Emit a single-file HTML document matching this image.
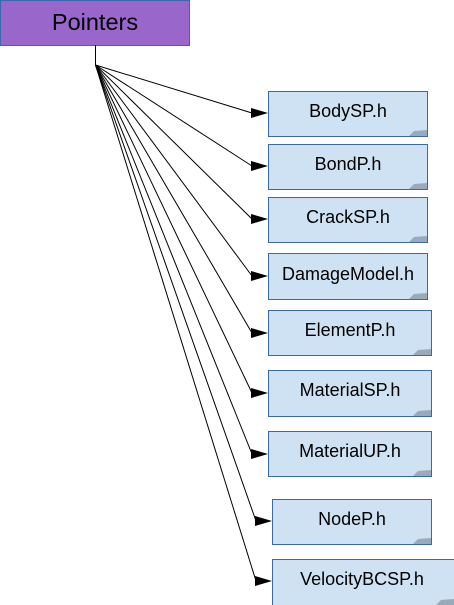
<!DOCTYPE html>
<html><head><style>body{margin:0;background:#fff}svg{display:block}</style></head><body>
<svg width="454" height="605" viewBox="0 0 454 605" xmlns="http://www.w3.org/2000/svg" font-family="Liberation Sans, sans-serif">
<rect x="0.5" y="0.5" width="189" height="45" fill="#9966cc" stroke="#3a68b0"/>
<text x="95" y="30" font-size="23.5" text-anchor="middle" fill="#000">Pointers</text>
<line x1="95.5" y1="45" x2="95.5" y2="65" stroke="#000"/>
<g stroke="#000" stroke-width="1" fill="none">
<line x1="95.5" y1="65" x2="252" y2="113"/>
<line x1="95.5" y1="65" x2="252" y2="166"/>
<line x1="95.5" y1="65" x2="252" y2="219"/>
<line x1="95.5" y1="65" x2="252" y2="276"/>
<line x1="95.5" y1="65" x2="252" y2="333"/>
<line x1="95.5" y1="65" x2="252" y2="393"/>
<line x1="95.5" y1="65" x2="252" y2="454"/>
<line x1="95.5" y1="65" x2="256" y2="521"/>
<line x1="95.5" y1="65" x2="256" y2="581"/>
</g>
<g fill="#000">
<path d="M251,108 L268,113 L251,118Z"/>
<path d="M251,161 L268,166 L251,171Z"/>
<path d="M251,214 L268,219 L251,224Z"/>
<path d="M251,271 L268,276 L251,281Z"/>
<path d="M251,328 L268,333 L251,338Z"/>
<path d="M251,388 L268,393 L251,398Z"/>
<path d="M251,449 L268,454 L251,459Z"/>
<path d="M255,516 L272,521 L255,526Z"/>
<path d="M255,576 L272,581 L255,586Z"/>
</g>
<g fill="#cfe2f3" stroke="#3a68b0" font-size="18">
<g><rect x="268.5" y="91.5" width="159" height="45"/><text x="348" y="117" text-anchor="middle" fill="#000" stroke="none">BodySP.h</text></g>
<g><rect x="268.5" y="144.5" width="159" height="45"/><text x="348" y="170" text-anchor="middle" fill="#000" stroke="none">BondP.h</text></g>
<g><rect x="268.5" y="197.5" width="159" height="45"/><text x="348" y="223" text-anchor="middle" fill="#000" stroke="none">CrackSP.h</text></g>
<g><rect x="268.5" y="253.5" width="159" height="46"/><text x="348" y="280" text-anchor="middle" fill="#000" stroke="none">DamageModel.h</text></g>
<g><rect x="268.5" y="310.5" width="163" height="45"/><text x="350" y="336" text-anchor="middle" fill="#000" stroke="none">ElementP.h</text></g>
<g><rect x="268.5" y="370.5" width="163" height="46"/><text x="350" y="396" text-anchor="middle" fill="#000" stroke="none">MaterialSP.h</text></g>
<g><rect x="268.5" y="431.5" width="163" height="45"/><text x="350" y="457" text-anchor="middle" fill="#000" stroke="none">MaterialUP.h</text></g>
<g><rect x="272.5" y="499.5" width="159" height="45"/><text x="352" y="525" text-anchor="middle" fill="#000" stroke="none">NodeP.h</text></g>
<g><rect x="272.5" y="559.5" width="182" height="47"/><text x="362" y="585" text-anchor="middle" fill="#000" stroke="none">VelocityBCSP.h</text></g>
</g>
<g fill="#9ab" stroke="none">
<path d="M409,136 L414,131 L427,130 L427,136Z"/>
<path d="M409,189 L414,184 L427,183 L427,189Z"/>
<path d="M409,242 L414,237 L427,236 L427,242Z"/>
<path d="M409,299 L414,294 L427,293 L427,299Z"/>
<path d="M413,355 L418,350 L431,349 L431,355Z"/>
<path d="M413,416 L418,411 L431,410 L431,416Z"/>
<path d="M413,476 L418,471 L431,470 L431,476Z"/>
<path d="M413,544 L418,539 L431,538 L431,544Z"/>
<path d="M436,605 L441,600 L454,599 L454,605Z"/>
</g>
</svg>
</body></html>
